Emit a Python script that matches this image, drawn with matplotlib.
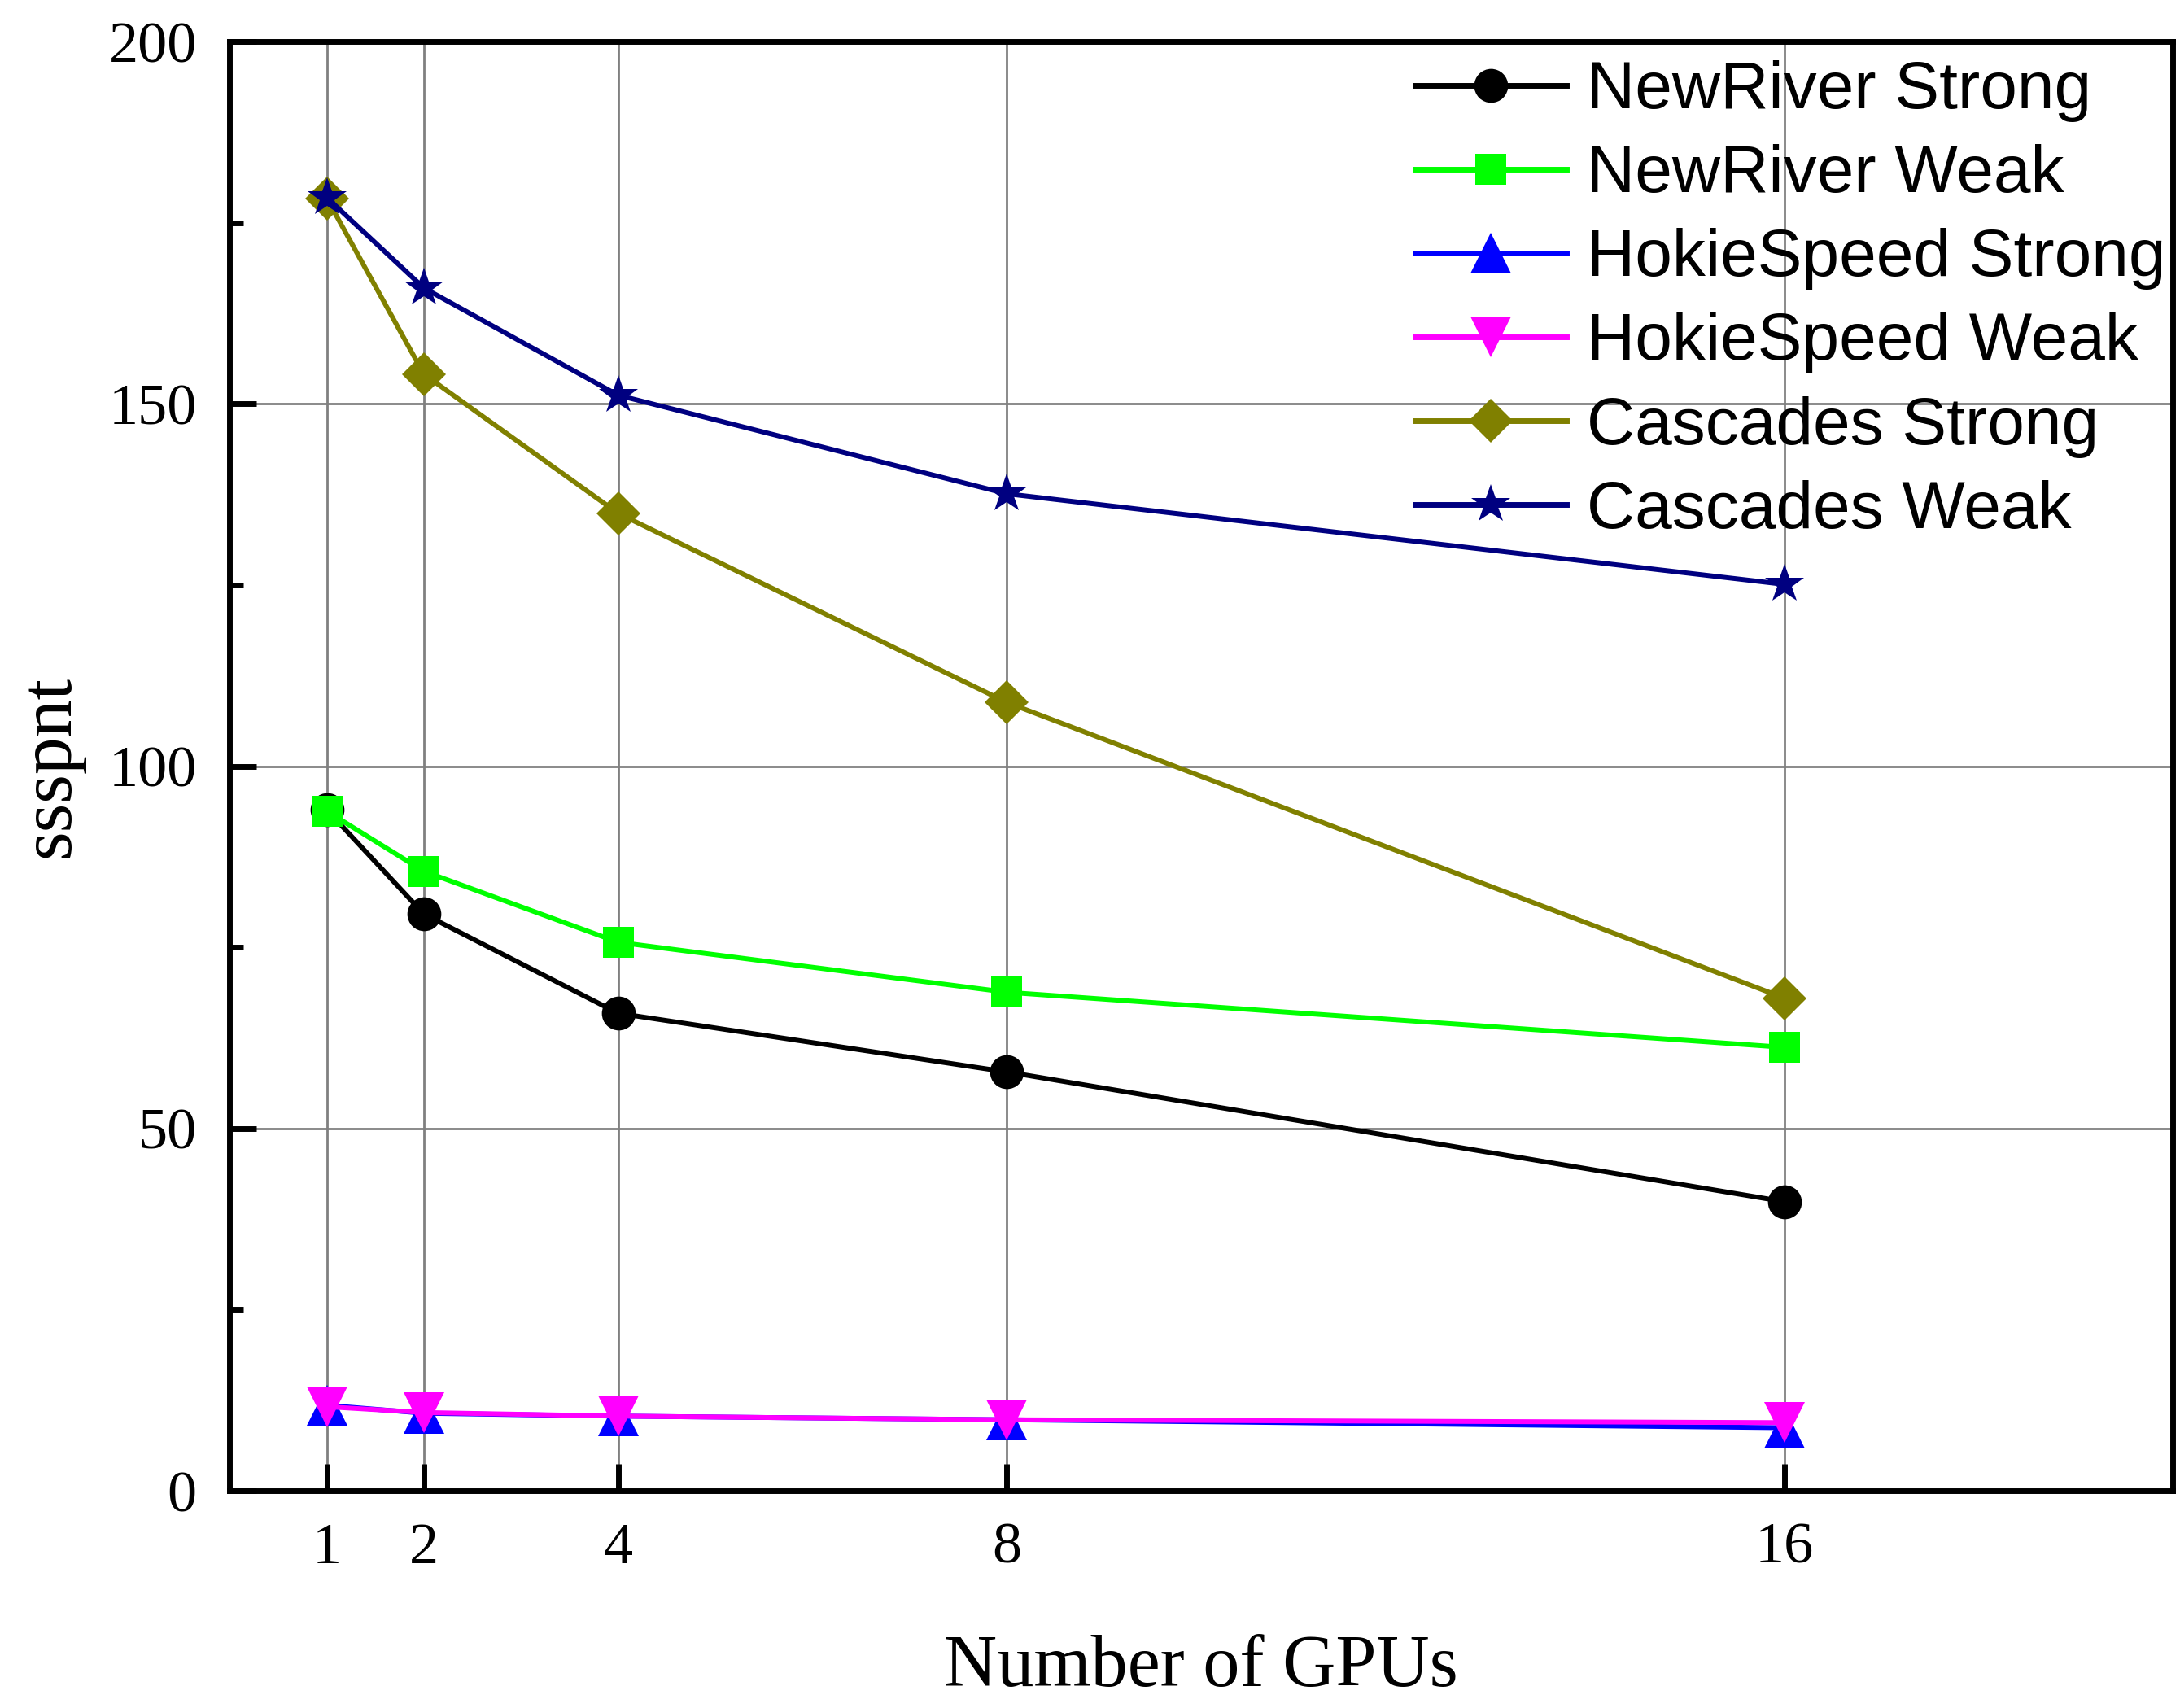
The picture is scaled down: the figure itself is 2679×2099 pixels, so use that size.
import matplotlib
matplotlib.use("Agg")
import matplotlib.pyplot as plt
from matplotlib.ticker import FixedLocator, MultipleLocator

# ---- data ----
gpus = [1, 2, 4, 8, 16]
newriver_strong = [94.0, 79.6, 65.9, 57.8, 39.9]
newriver_weak = [93.8, 85.5, 75.7, 68.8, 61.2]
hokie_strong = [11.8, 10.7, 10.3, 9.8, 8.7]
hokie_weak = [11.6, 10.8, 10.3, 9.8, 9.4]
cascades_strong = [178.4, 154.1, 134.9, 108.8, 68.0]
cascades_weak = [178.5, 166.0, 151.2, 137.6, 125.1]

labels = ["NewRiver Strong", "NewRiver Weak", "HokieSpeed Strong",
          "HokieSpeed Weak", "Cascades Strong", "Cascades Weak"]
y_ticks = [0, 50, 100, 150, 200]

series = [newriver_strong, newriver_weak, hokie_strong, hokie_weak,
          cascades_strong, cascades_weak]
colors = ["#000000", "#00FF00", "#0000FF", "#FF00FF", "#808000", "#000080"]
markers = ["o", "s", "^", "v", "D", "*"]
msizes = [30, 27, 36, 36, 27, 36]

serif = ["Liberation Serif", "DejaVu Serif"]
sans = ["Liberation Sans", "DejaVu Sans"]

fig = plt.figure(figsize=(26.79, 20.99), dpi=100)
ax = fig.add_axes([0.1053, 0.1272, 0.9968 - 0.1053, 0.9756 - 0.1272])

for vals, c, m, ms, lab in zip(series, colors, markers, msizes, labels):
    ax.plot(gpus, vals, color=c, marker=m, markersize=ms, linewidth=4.3,
            markeredgewidth=0, label=lab, zorder=3)

ax.set_xlim(0, 20)
ax.set_ylim(0, 200)
ax.xaxis.set_major_locator(FixedLocator(gpus))
ax.set_xticklabels([str(g) for g in gpus])
ax.yaxis.set_major_locator(FixedLocator(y_ticks))
ax.yaxis.set_minor_locator(MultipleLocator(25))

ax.grid(True, which="major", color="#808080", linewidth=2.0, zorder=1)
ax.set_axisbelow(True)

for sp in ax.spines.values():
    sp.set_linewidth(5.0)
    sp.set_color("black")
    sp.set_zorder(5)

ax.tick_params(axis="both", which="major", direction="in", length=24,
               width=5.0, labelsize=52, color="black")
ax.tick_params(axis="y", which="minor", direction="in", length=12, width=5.0)
ax.tick_params(axis="y", which="major", pad=29)
ax.tick_params(axis="x", which="major", pad=28)
ax.tick_params(top=False, right=False, which="both")

for t in ax.get_xticklabels() + ax.get_yticklabels():
    t.set_fontfamily(serif)

ax.set_xlabel("Number of GPUs", fontsize=65, family=serif, labelpad=52)
ax.set_ylabel("ssspnt", fontsize=66, family=serif, labelpad=22)

leg = ax.legend(loc="upper left", bbox_to_anchor=(0.6100, 0.987),
                frameon=False, borderpad=0, borderaxespad=0,
                handlelength=2.27, handletextpad=0.3, labelspacing=0.33,
                prop={"family": sans, "size": 59})
for line in leg.get_lines():
    line.set_linewidth(5.0)

fig.savefig("out.png", dpi=100)
